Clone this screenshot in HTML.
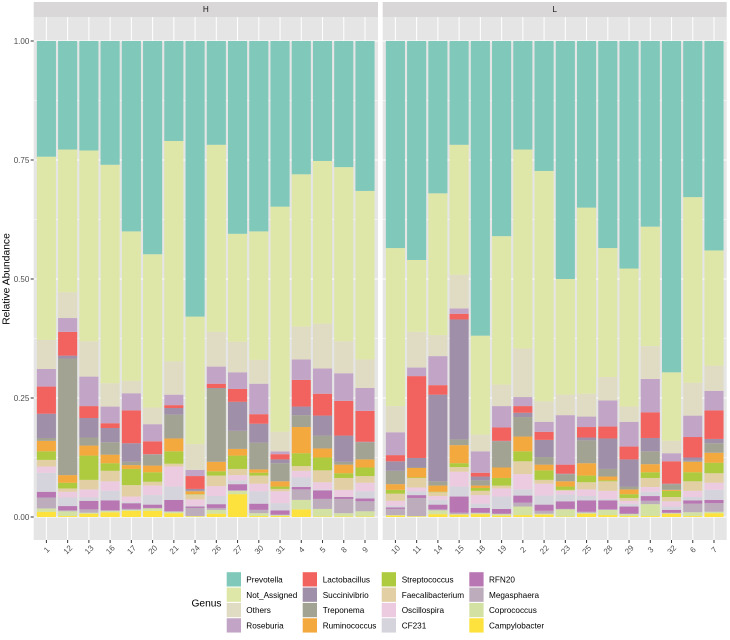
<!DOCTYPE html>
<html>
<head>
<meta charset="utf-8">
<title>Relative Abundance by Genus</title>
<style>
html,body{margin:0;padding:0;background:#fff;}
svg{display:block;font-family:"Liberation Sans",sans-serif;}
</style>
</head>
<body>
<svg id="chart" xmlns="http://www.w3.org/2000/svg" width="730" height="640" viewBox="0 0 730 640"></svg>
<script>
const samplesH = ['1','12','13','16','17','20','21','24','26','27','30','31','4','5','8','9'];
const samplesL = ['10','11','14','15','18','19','2','22','23','25','28','29','3','32','6','7'];
const yTicks = [0, 0.25, 0.5, 0.75, 1];
const yMinorTicks = [0.125, 0.375, 0.625, 0.875];
const yTickLabels = ['0.00', '0.25', '0.50', '0.75', '1.00'];

// Per-mille abundance for each genus; H samples first, then L samples.
const campylobacter = [11,2,7,10,13,13,8,1,7,48,2,2,16,1,1,1, 3,1,6,5,6,3,4,5,1,7,4,2,2,7,2,8];
const coprococcus = [7,10,2,3,2,5,3,1,8,7,6,2,20,16,7,11, 1,1,8,1,2,3,18,2,15,2,11,4,25,1,8,3];
const megasphaera = [23,2,7,1,2,1,1,17,4,1,7,1,22,21,30,21, 13,38,2,3,1,1,8,6,1,2,1,1,7,1,18,18];
const rfn20 = [12,9,18,21,12,7,24,3,8,13,13,9,5,18,4,6, 3,6,10,34,10,10,15,13,16,24,19,15,10,6,7,7];
const cf231 = [40,18,7,20,3,20,28,2,17,8,26,15,20,2,1,15, 4,8,10,21,9,26,13,19,14,9,3,6,9,7,7,21];
const oscillospira = [13,12,17,20,11,20,42,13,21,11,16,25,14,15,14,18, 10,8,8,31,18,17,32,25,8,14,17,6,10,11,13,15];
const faecalibacterium = [14,7,20,22,24,8,6,10,22,13,17,5,10,25,25,14, 15,20,8,10,9,6,27,8,2,15,20,6,19,9,20,20];
const streptococcus = [18,12,51,16,34,20,26,1,9,28,6,5,27,27,10,18, 8,1,1,8,6,16,21,20,7,14,2,8,12,13,19,22];
const ruminococcus = [22,16,21,18,8,14,27,6,20,14,7,11,55,19,18,17, 12,20,13,38,5,22,31,12,11,26,8,10,17,2,22,21];
const treponema = [6,245,17,26,7,23,50,1,154,38,56,38,25,27,6,36, 28,1,9,12,11,55,41,16,15,48,16,6,27,12,2,20];
const succinivibrio = [51,6,41,30,39,1,14,4,1,61,40,8,18,42,55,1, 20,20,182,252,8,1,9,36,1,6,64,57,28,1,7,9];
const lactobacillus = [57,50,25,10,69,27,6,27,9,27,20,11,56,46,73,65, 13,172,20,12,8,28,14,17,19,22,25,27,54,47,43,60];
const roseburia = [37,29,62,35,36,36,22,13,36,35,64,6,43,53,58,48, 48,18,61,11,45,45,19,21,104,22,55,52,70,17,45,41];
const others = [61,54,74,49,26,35,70,54,73,64,50,41,69,94,67,60, 55,75,44,71,35,45,102,43,43,48,49,32,69,26,69,53];
const notAssigned = [385,300,401,459,314,322,463,268,393,227,270,473,320,342,366,354, 332,151,298,273,208,312,418,484,243,391,271,290,251,144,390,242];
const prevotella = [243,228,230,260,400,448,210,579,218,405,400,348,280,252,265,315, 435,460,320,218,619,410,228,273,500,350,435,478,390,696,328,440];

const genusNames = ['Campylobacter','Coprococcus','Megasphaera','RFN20','CF231','Oscillospira','Faecalibacterium','Streptococcus','Ruminococcus','Treponema','Succinivibrio','Lactobacillus','Roseburia','Others','Not_Assigned','Prevotella'];
const genusValues = [campylobacter,coprococcus,megasphaera,rfn20,cf231,oscillospira,faecalibacterium,streptococcus,ruminococcus,treponema,succinivibrio,lactobacillus,roseburia,others,notAssigned,prevotella];
const genusColors = ['#fde23e','#d3e2a3','#bcacbc','#b877b3','#d5d3db','#eccbe1','#e2d0a4','#aecb3f','#f4a93e','#a3a394','#a08fa8','#f2635f','#c2a5c6','#e0dcc4','#dfe7a8','#7fc8ba'];
const legendColumns = [
  ['Prevotella','Not_Assigned','Others','Roseburia'],
  ['Lactobacillus','Succinivibrio','Treponema','Ruminococcus'],
  ['Streptococcus','Faecalibacterium','Oscillospira','CF231'],
  ['RFN20','Megasphaera','Coprococcus','Campylobacter']
];

const NS = 'http://www.w3.org/2000/svg';
const svg = document.getElementById('chart');
const panelTop = 17, panelBottom = 540;
const y0 = 517, yUnit = 476, xStep = 21.24, barW = 19.1;
function yScale(v){ return y0 - yUnit * v; }
function xScale(panelLeft, i){ return panelLeft + 12.7 + i * xStep; }
function mk(tag, attrs, parent){
  const el = document.createElementNS(NS, tag);
  for (const k in attrs) el.setAttribute(k, attrs[k]);
  (parent || svg).appendChild(el);
  return el;
}

const panels = [
  {label:'H', samples:samplesH, left:33.7, right:378, offset:0},
  {label:'L', samples:samplesL, left:382.7, right:726.7, offset:samplesH.length}
];

panels.forEach(function(p){
  const strip = mk('rect', {x:p.left, y:2, width:p.right-p.left, height:panelTop-2, fill:'#d9d7d7'});
  
  
  const stripText = mk('text', {x:(p.left+p.right)/2, y:12.2, 'text-anchor':'middle', 'font-size':'8.2px', fill:'#1a1a1a'});
  stripText.textContent = p.label;
  
  

  const bg = mk('rect', {x:p.left, y:panelTop, width:p.right-p.left, height:panelBottom-panelTop, fill:'#e5e5e5'});
  
  

  yMinorTicks.forEach(function(t){
    const g = mk('line', {x1:p.left, x2:p.right, y1:yScale(t), y2:yScale(t), stroke:'#fff', 'stroke-width':0.5});
    
    
  });
  yTicks.forEach(function(t){
    const g = mk('line', {x1:p.left, x2:p.right, y1:yScale(t), y2:yScale(t), stroke:'#fff', 'stroke-width':1});
    
    
  });

  p.samples.forEach(function(s, i){
    const cx = xScale(p.left, i);
    const g = mk('line', {x1:cx, x2:cx, y1:panelTop, y2:panelBottom, stroke:'#fff', 'stroke-width':1});
    
    

    let cum = 0;
    genusValues.forEach(function(vals, gi){
      const v = vals[p.offset + i] / 1000;
      const top = yScale(cum + v), bottom = yScale(cum);
      const r = mk('rect', {x:cx - barW/2, y:top, width:barW, height:bottom - top, fill:genusColors[gi]});
      
      
      cum += v;
    });

    const tick = mk('line', {x1:cx, x2:cx, y1:panelBottom, y2:panelBottom+3, stroke:'#333', 'stroke-width':1});
    
    
    const tl = mk('text', {x:cx, y:552.5, 'text-anchor':'middle', 'font-size':'8px', fill:'#4d4d4d', transform:'rotate(-45 ' + cx + ' 549.5)'});
    tl.textContent = s;
    
    
  });
});

yTicks.forEach(function(t, i){
  const tick = mk('line', {x1:30.7, x2:33.7, y1:yScale(t), y2:yScale(t), stroke:'#333', 'stroke-width':1});
  
  
  const tl = mk('text', {x:29.3, y:yScale(t)+2.9, 'text-anchor':'end', 'font-size':'8px', fill:'#4d4d4d'});
  tl.textContent = yTickLabels[i];
  
  
});

const yTitle = mk('text', {x:0, y:0, 'text-anchor':'middle', 'font-size':'10.3px', fill:'#000', transform:'translate(9.3 279) rotate(-90)'});
yTitle.textContent = 'Relative Abundance';



const legendTitle = mk('text', {x:191.5, y:606.3, 'font-size':'10.2px', fill:'#000'});
legendTitle.textContent = 'Genus';



const keyX = [226.7, 302.7, 381.7, 469.3];
const labelX = [246.3, 322.7, 401.7, 489];
legendColumns.forEach(function(col, c){
  col.forEach(function(name, r){
    const ky = 572.2 + r * 15.35;
    const key = mk('rect', {x:keyX[c], y:ky, width:14.3, height:14.3, fill:genusColors[genusNames.indexOf(name)]});
    
    
    const lab = mk('text', {x:labelX[c], y:ky + 10.2, 'font-size':'8.2px', fill:'#000'});
    lab.textContent = name;
    
    
  });
});
</script>
</body>
</html>
